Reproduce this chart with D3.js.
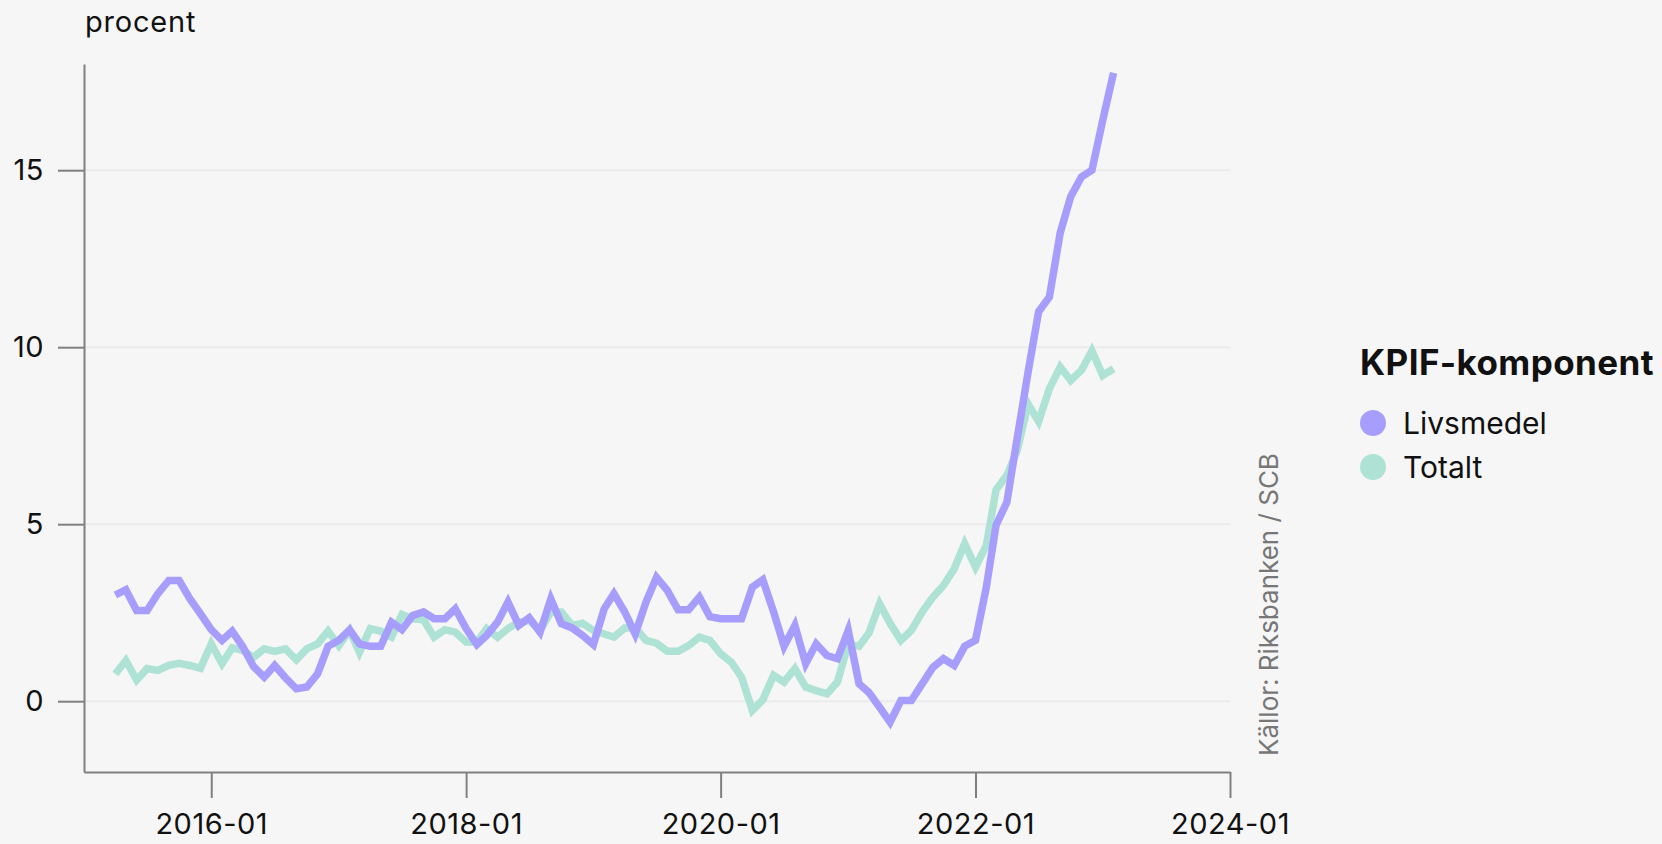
<!DOCTYPE html>
<html>
<head>
<meta charset="utf-8">
<script src="https://cdn.jsdelivr.net/npm/d3@7"></script>
<style>
  body { margin: 0; background: #f6f6f6; }
  svg { display: block; font-family: "Inter", "Noto Sans", sans-serif; }
</style>
</head>
<body>
<svg id="chart" width="1662" height="844"></svg>
<script>
// monthly data, 2015-04 .. 2023-02
var startMonth = "2015-04";
var seriesNames = ["Livsmedel", "Totalt"];
var seriesColors = ["#a79dfd", "#ade2d4"];

var livsmedel = [3.0, 3.15, 2.56, 2.56, 3.04, 3.41, 3.41, 2.89, 2.47, 2.02,
  1.72, 1.98, 1.53, 0.98, 0.68, 1.01, 0.66, 0.35, 0.4, 0.77,
  1.55, 1.72, 2.02, 1.62, 1.55, 1.55, 2.23, 2.02, 2.42, 2.52,
  2.33, 2.33, 2.61, 2.05, 1.6, 1.86, 2.23, 2.8, 2.14, 2.36,
  1.95, 2.89, 2.19, 2.07, 1.86, 1.6, 2.61, 3.04, 2.52, 1.9,
  2.8, 3.5, 3.13, 2.58, 2.58, 2.94, 2.39, 2.33, 2.33, 2.33,
  3.22, 3.43, 2.52, 1.55, 2.14, 1.06, 1.62, 1.29, 1.2, 2.0,
  0.49, 0.25, -0.17, -0.59, 0.02, 0.02, 0.49, 0.96, 1.2, 1.01,
  1.55, 1.72, 3.22, 4.97, 5.62, 7.45, 9.3, 11.0, 11.42, 13.23,
  14.25, 14.81, 15.0, 16.41, 17.75];

var totalt = [0.77, 1.15, 0.6, 0.92, 0.87, 1.01, 1.07, 1.01, 0.93, 1.62,
  1.06, 1.51, 1.43, 1.24, 1.48, 1.41, 1.48, 1.17, 1.48, 1.62,
  1.98, 1.57, 2.0, 1.38, 2.05, 1.98, 1.81, 2.45, 2.33, 2.3,
  1.81, 2.02, 1.95, 1.67, 1.67, 2.05, 1.81, 2.05, 2.23, 2.28,
  2.0, 2.52, 2.52, 2.14, 2.2, 2.0, 1.9, 1.81, 2.07, 2.07,
  1.72, 1.64, 1.41, 1.41, 1.57, 1.81, 1.72, 1.34, 1.1, 0.68,
  -0.26, 0.04, 0.73, 0.54, 0.92, 0.4, 0.3, 0.21, 0.54, 1.62,
  1.55, 1.92, 2.75, 2.2, 1.72, 2.0, 2.52, 2.94, 3.27, 3.74,
  4.45, 3.79, 4.4, 5.97, 6.38, 7.09, 8.4, 7.9, 8.83, 9.44,
  9.06, 9.35, 9.9, 9.2, 9.39];

var yTicks = [0, 5, 10, 15];
var xTicks = ["2016-01", "2018-01", "2020-01", "2022-01", "2024-01"];

var parseMonth = d3.timeParse("%Y-%m");
var start = parseMonth(startMonth);
var dates = livsmedel.map(function(d, i) { return d3.timeMonth.offset(start, i); });

var svg = d3.select("#chart");
var plotLeft = 84, plotRight = 1230, plotTop = 64, plotBottom = 772;

var x = d3.scaleTime()
  .domain([parseMonth("2015-01"), parseMonth("2024-01")])
  .range([plotLeft, plotRight]);
var y = d3.scaleLinear().domain([-2, 18]).range([plotBottom, plotTop]);

// grid
svg.append("g").selectAll("line")
  .data(yTicks).enter().append("line")
  .attr("x1", plotLeft).attr("x2", plotRight)
  .attr("y1", function(d) { return y(d); })
  .attr("y2", function(d) { return y(d); })
  .attr("stroke", "#ebebeb")
  .attr("stroke-width", 2);

// axes
var yAxis = svg.append("g")
  .attr("transform", "translate(" + plotLeft + ",0)")
  .call(d3.axisLeft(y).tickValues(yTicks).tickSize(26).tickSizeOuter(0).tickPadding(14));

var xAxis = svg.append("g")
  .attr("transform", "translate(0," + plotBottom + ")")
  .call(d3.axisBottom(x).tickValues(xTicks.map(parseMonth)).tickSize(26).tickSizeOuter(0)
    .tickPadding(15).tickFormat(d3.timeFormat("%Y-%m")));

[yAxis, xAxis].forEach(function(a) {
  a.selectAll("path, line").attr("stroke", "#808080").attr("stroke-width", 2);
  a.selectAll("text").attr("font-size", 29).attr("fill", "#111")
    .attr("font-family", "Inter, sans-serif").attr("letter-spacing", 0.5);
});

// lines, Totalt below Livsmedel
var line = d3.line()
  .x(function(d, i) { return x(dates[i]); })
  .y(function(d) { return y(d); });

[totalt, livsmedel].forEach(function(s, k) {
  svg.append("path")
    .datum(s)
    .attr("d", line)
    .attr("fill", "none")
    .attr("stroke", k == 0 ? seriesColors[1] : seriesColors[0])
    .attr("stroke-width", 7.5)
    .attr("stroke-linejoin", "miter");
});

// y unit
svg.append("text")
  .attr("x", 85).attr("y", 32)
  .attr("font-size", 29)
  .attr("letter-spacing", 0.8)
  .attr("fill", "#111")
  .text("procent");

// source
svg.append("text")
  .attr("transform", "translate(1278,756) rotate(-90)")
  .attr("font-size", 26)
  .attr("fill", "#777")
  .text("Källor: Riksbanken / SCB");

// legend
svg.append("text")
  .attr("x", 1360).attr("y", 375)
  .attr("font-size", 35)
  .attr("font-weight", "bold")
  .attr("letter-spacing", 0.4)
  .attr("fill", "#111")
  .text("KPIF-komponent");

var legend = svg.append("g").selectAll("g")
  .data(seriesNames).enter().append("g")
  .attr("transform", function(d, i) { return "translate(1373," + (423 + i * 44) + ")"; });
legend.append("circle").attr("r", 13).attr("fill", function(d, i) { return seriesColors[i]; });
legend.append("text")
  .attr("x", 30).attr("y", 11)
  .attr("font-size", 30)
  .attr("fill", "#111")
  .text(function(d) { return d; });
</script>
</body>
</html>
